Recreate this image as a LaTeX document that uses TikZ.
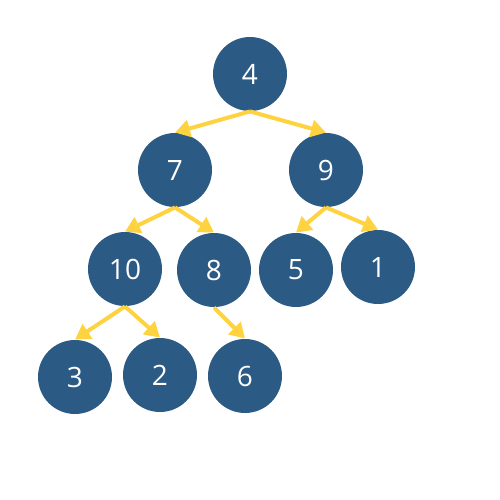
\documentclass[tikz,border=0pt]{standalone}
\usepackage{fontspec}
\setmainfont{Open Sans}
\usetikzlibrary{arrows.meta}
\definecolor{nodeblue}{HTML}{2B5A85}
\definecolor{arrowyellow}{HTML}{FFD23F}
\begin{document}
\begin{tikzpicture}[x=0.5pt,y=-0.5pt,
  tn/.style={circle,fill=nodeblue,draw=none,minimum size=37pt,inner sep=0pt,text=white,font=\fontsize{14pt}{16pt}\selectfont},
  edge/.style={draw=arrowyellow,line width=2pt,-{Triangle[length=7.5pt,width=8.5pt]}}]
\useasboundingbox (0,0) rectangle (500,500);
\node[tn] (n4) at (250,74) {4};
\node[tn] (n7) at (175,170) {7};
\node[tn] (n9) at (326,170) {9};
\node[tn] (n10) at (125,269) {10};
\node[tn] (n8) at (214,270) {8};
\node[tn] (n5) at (296,270) {5};
\node[tn] (n1) at (378,267) {1};
\node[tn] (n3) at (75,377) {3};
\node[tn] (n2) at (160,375) {2};
\node[tn] (n6) at (245,376) {6};
\draw[edge] (n4.south) -- (n7.north);
\draw[edge] (n4.south) -- (n9.north);
\draw[edge] (n7.south) -- (n10.north);
\draw[edge] (n7.south) -- (n8.north);
\draw[edge] (n9.south) -- (n5.north);
\draw[edge] (n9.south) -- (n1.north);
\draw[edge] (n10.south) -- (n3.north);
\draw[edge] (n10.south) -- (n2.north);
\draw[edge] (n8.south) -- (n6.north);
\end{tikzpicture}
\end{document}
